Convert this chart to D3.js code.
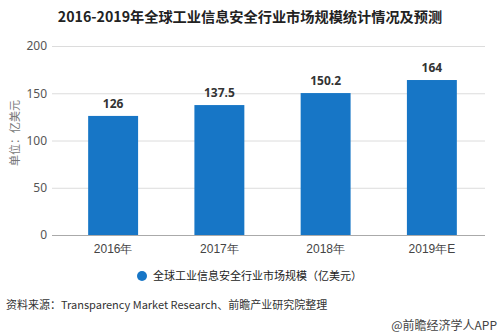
<!DOCTYPE html>
<html><head><meta charset="utf-8">
<script src="https://cdn.jsdelivr.net/npm/d3@7"></script>
<style>body{margin:0;background:#fff;}svg{display:block;font-family:"Microsoft YaHei","Noto Sans CJK SC",sans-serif;}</style>
</head><body>
<svg id="c" width="499" height="334"></svg>
<script>
const categories = ["2016年", "2017年", "2018年", "2019年E"];
const values = [126, 137.5, 150.2, 164];
const valueLabels = ["126", "137.5", "150.2", "164"];
const yTicks = [0, 50, 100, 150, 200];
const title = "2016-2019年全球工业信息安全行业市场规模统计情况及预测";
const seriesName = "全球工业信息安全行业市场规模（亿美元）";
const yTitle = "单位：亿美元";
const source = "资料来源：Transparency Market Research、前瞻产业研究院整理";
const credit = "@前瞻经济学人APP";

const svg = d3.select("#c");
const color = "#1776c6";
const x = d3.scaleBand().domain(categories).range([60, 485]).paddingInner(0.53).paddingOuter(0.265);
const y = d3.scaleLinear().domain([0, 200]).range([235, 46]);

svg.append("text").attr("x", 250).attr("y", 22).attr("text-anchor", "middle")
  .attr("font-size", 14.2).attr("font-weight", "bold").attr("fill", "#222").text(title);

// grid
svg.append("g").selectAll("line").data(yTicks.filter(d => d > 0)).join("line")
  .attr("x1", 52).attr("x2", 485).attr("y1", d => y(d) + 0.5).attr("y2", d => y(d) + 0.5)
  .attr("stroke", "#dcdcdc");

const ya = svg.append("g").attr("transform", "translate(52,0)")
  .call(d3.axisLeft(y).tickValues(yTicks).tickSize(0).tickPadding(5));
ya.select(".domain").remove();
ya.selectAll("text").attr("font-size", 12).attr("fill", "#555").attr("font-family", "\"Noto Sans\",sans-serif");

svg.append("text").attr("transform", "translate(19,133) rotate(-90)").attr("text-anchor", "middle")
  .attr("font-size", 11).attr("fill", "#777").text(yTitle);

svg.append("g").selectAll("rect").data(values).join("rect")
  .attr("x", (d, i) => x(categories[i])).attr("width", x.bandwidth())
  .attr("y", d => y(d)).attr("height", d => y(0) - y(d)).attr("fill", color);

svg.append("g").selectAll("text").data(values).join("text")
  .attr("x", (d, i) => x(categories[i]) + x.bandwidth() / 2).attr("y", d => y(d) - 8)
  .attr("text-anchor", "middle").attr("font-size", 12).attr("font-weight", "bold")
  .attr("fill", "#333").attr("font-family", "\"Noto Sans\",sans-serif")
  .text((d, i) => valueLabels[i]);

const xa = svg.append("g").attr("transform", `translate(0,${y(0)})`)
  .call(d3.axisBottom(x).tickSize(0).tickPadding(9));
xa.select(".domain").attr("d", "M52,0.5H485").attr("stroke", "#aaa");
xa.selectAll("text").attr("font-size", 12).attr("fill", "#444");

svg.append("circle").attr("cx", 142).attr("cy", 276).attr("r", 5).attr("fill", color);
svg.append("text").attr("x", 153).attr("y", 280).attr("font-size", 11).attr("fill", "#222").text(seriesName);

svg.append("text").attr("x", 6).attr("y", 309).attr("font-size", 11).attr("fill", "#333").text(source);
svg.append("text").attr("x", 497).attr("y", 330).attr("text-anchor", "end").attr("font-size", 12).attr("fill", "#444").text(credit);
</script>
</body></html>
